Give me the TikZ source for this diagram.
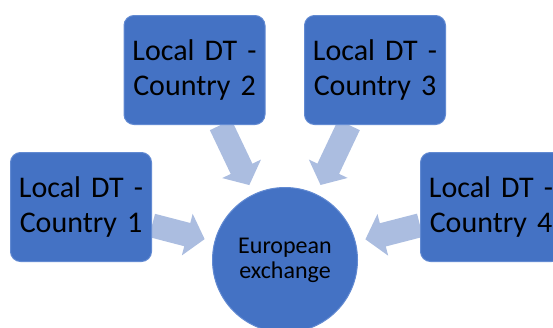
\documentclass[tikz,border=0pt]{standalone}
\usepackage{fontspec}
\setmainfont{Carlito}
\usepackage{xcolor}
\usepackage{tikz}
\usetikzlibrary{arrows.meta}
\usetikzlibrary{backgrounds}
\definecolor{dtblue}{RGB}{68,114,196}
\definecolor{dtrim}{RGB}{98,138,210}
\definecolor{flowblue}{RGB}{171,189,224}
\tikzstyle{localdt} = [rectangle, rounded corners=10pt, minimum width=141pt, minimum height=109pt, text width=132pt, align=center, fill=dtblue, draw=dtrim, line width=1pt, font=\fontsize{30}{35}\selectfont]
\tikzstyle{exchange} = [circle, minimum size=145pt, inner sep=0pt, align=center, fill=dtblue, draw=dtrim, line width=1pt, font=\fontsize{24}{25}\selectfont]
\tikzstyle{flow} = [line width=24pt, draw=flowblue, -{Triangle[length=18pt,width=42pt]}, shorten >=10pt]

\begin{document}
\begin{tikzpicture}[x=1pt, y=-1pt]
    \useasboundingbox (0,0) rectangle (553,327);
    \node(hub)[exchange] at (285,260) {European\\exchange};
    \node(dt1)[localdt] at (81,207) {Local DT -\\Country 1};
    \node(dt2)[localdt] at (194.5,70) {Local DT -\\Country 2};
    \node(dt3)[localdt] at (375,70) {Local DT -\\Country 3};
    \node(dt4)[localdt] at (491,207) {Local DT -\\Country 4};
    \begin{pgfonlayer}{background}
    \draw[flow](dt1)--(hub);
    \draw[flow](dt2)--(hub);
    \draw[flow](dt3)--(hub);
    \draw[flow](dt4)--(hub);
    \end{pgfonlayer}
  \end{tikzpicture}
\end{document}
